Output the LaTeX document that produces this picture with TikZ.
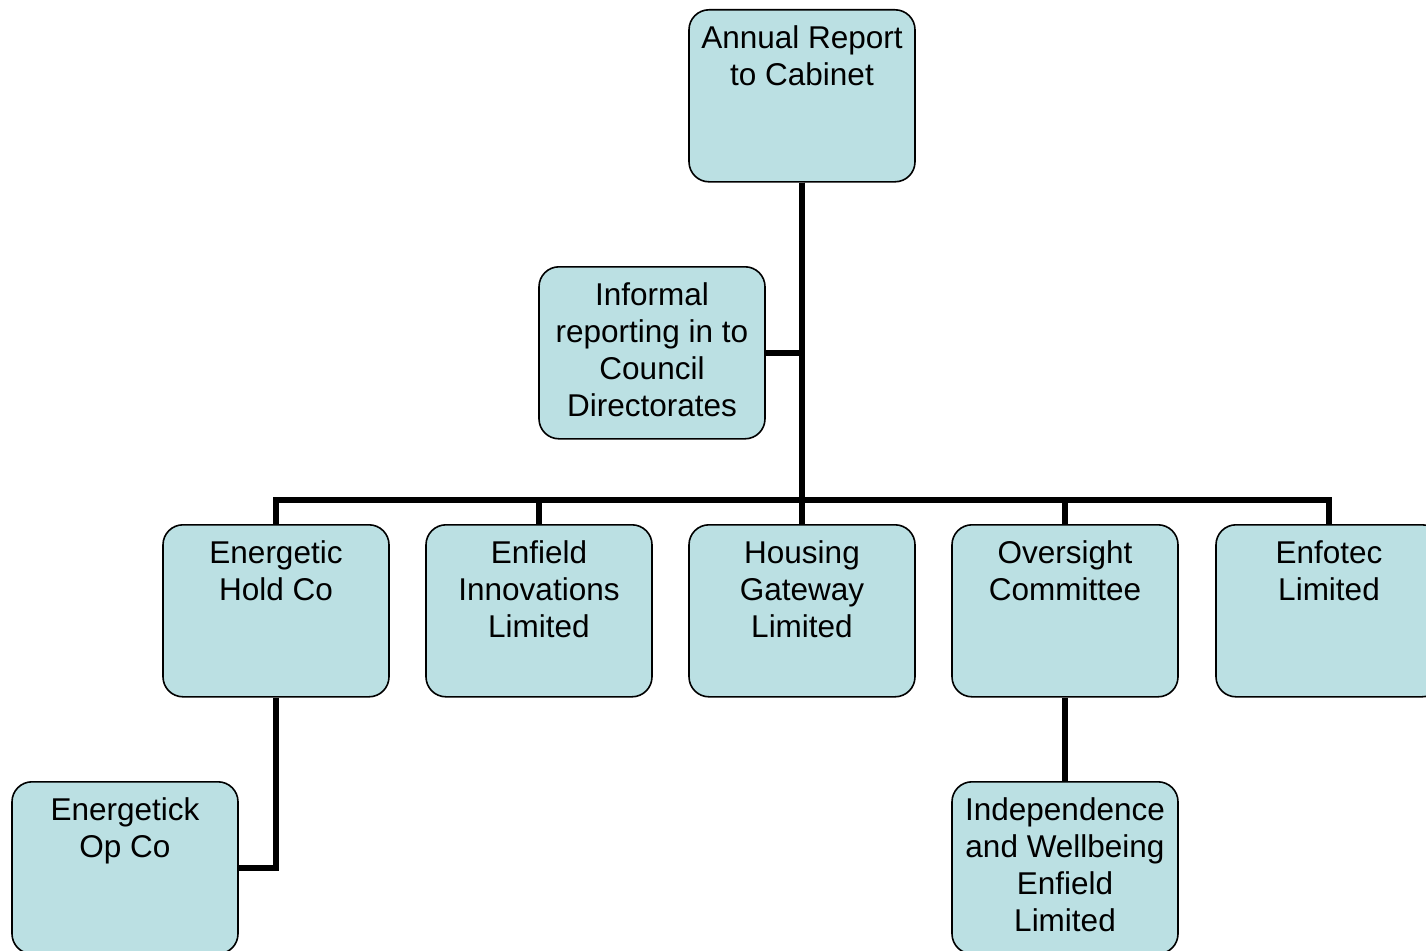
\documentclass[tikz,border=0pt]{standalone}
\usepackage{fontspec}
\setmainfont{Liberation Sans}
\usepackage{tikz}

\definecolor{boxblue}{RGB}{187,224,227}
% text block of one box, first line near the top
\newcommand{\boxtext}[1]{\parbox[t][172pt][t]{226pt}{\centering\rule{0pt}{38.5pt}#1}}

\begin{document}
\begin{tikzpicture}[x=1pt,y=-1pt,
  unit/.style={draw, fill=boxblue, line width=1.6pt, rounded corners=20pt,
    inner sep=0pt, anchor=north, font=\fontsize{31.5pt}{37pt}\selectfont},
  link/.style={line width=6pt}]
  \clip (0,0) rectangle (1426,950);
  % boxes
  \node[unit] (annual)    at (802,9)   {\boxtext{Annual Report\\to Cabinet}};
  \node[unit] (informal)  at (652,266) {\boxtext{Informal\\reporting in to\\Council\\Directorates}};
  \node[unit] (hold)      at (276,524) {\boxtext{Energetic\\Hold Co}};
  \node[unit] (innov)     at (539,524) {\boxtext{Enfield\\Innovations\\Limited}};
  \node[unit] (housing)   at (802,524) {\boxtext{Housing\\Gateway\\Limited}};
  \node[unit] (oversight) at (1065,524) {\boxtext{Oversight\\Committee}};
  \node[unit] (enfotec)   at (1329,524) {\boxtext{Enfotec\\Limited}};
  \node[unit] (opco)      at (125,781) {\boxtext{Energetick\\Op Co}};
  \node[unit] (wellbeing) at (1065,781) {\boxtext{Independence\\and Wellbeing\\Enfield\\Limited}};
  % branch point of the bus
  \coordinate (fork) at (802,500);
  % connectors
  \foreach \c in {hold,innov,housing,oversight,enfotec}
    \draw[link] (annual.south) -- (fork) -| (\c.north);
  \draw[link] (informal.east) -- (informal.east -| annual.south);
  \draw[link] (hold.south) |- (opco.east);
  \draw[link] (oversight.south) -- (wellbeing.north);
\end{tikzpicture}
\end{document}
